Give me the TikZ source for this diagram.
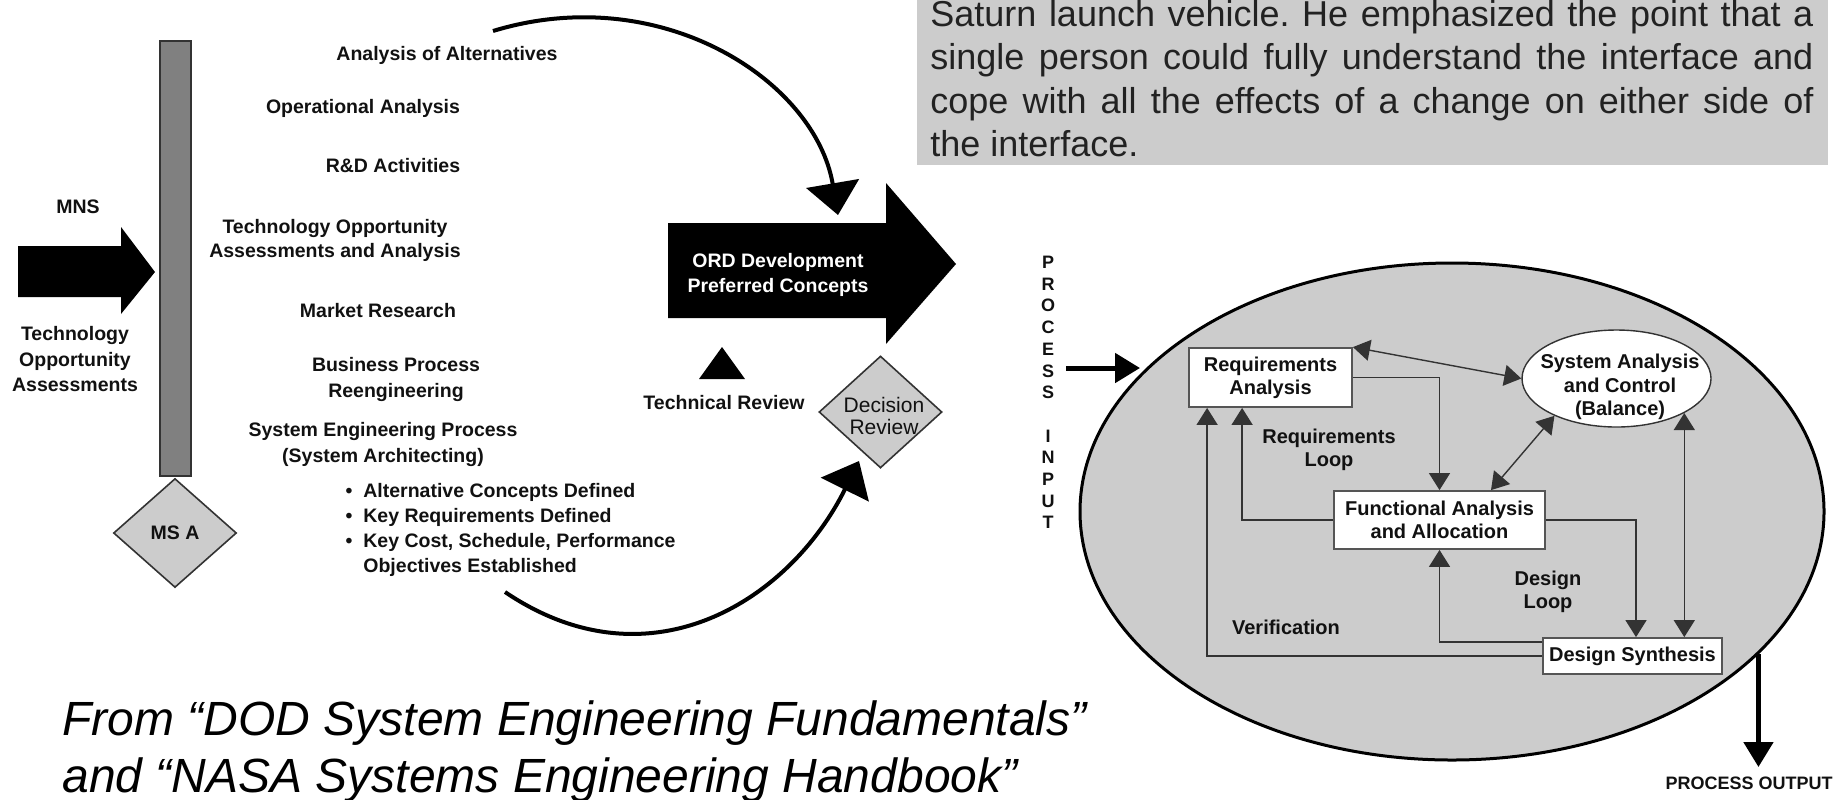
\documentclass[tikz,border=0pt]{standalone}
\usepackage{fontspec}
\setmainfont{Liberation Sans}
\usetikzlibrary{arrows.meta,shapes.geometric,calc}
\frenchspacing
\definecolor{panel}{HTML}{CCCCCC}
\definecolor{barfill}{HTML}{808080}
\definecolor{edge}{HTML}{333333}
\definecolor{boxedge}{HTML}{555555}
\definecolor{ink}{HTML}{111111}
\definecolor{quoteink}{HTML}{222222}
\newcommand\fntL{\bfseries\fontsize{9.75pt}{12pt}\selectfont}
\newcommand\fntR{\bfseries\fontsize{10pt}{11.6pt}\selectfont}
\newcommand\fntDec{\fontsize{10.5pt}{11pt}\selectfont}
\newcommand\fntCap{\itshape\fontsize{24pt}{28.5pt}\selectfont}
\newcommand\fntQuote{\fontsize{18pt}{21.2pt}\selectfont}
\newcommand\fntPIO{\bfseries\fontsize{9pt}{10.85pt}\selectfont}
\begin{document}
\begin{tikzpicture}[x=0.5pt,y=-0.5pt,
  lbl/.style={font=\fntL,text=ink,inner sep=0},
  lblc/.style={lbl,align=center},
  rlbl/.style={font=\fntR,text=ink,inner sep=0,align=center},
  rbox/.style={rlbl,rectangle,draw=boxedge,fill=white,line width=0.9pt},
  milestone/.style={diamond,draw=edge,fill=panel,line width=0.8pt,inner sep=0},
  quote/.style={font=\fntQuote,text=quoteink,inner sep=0,anchor=base west},
  curvearrow/.style={line width=2pt,-{Triangle[length=16pt,width=26.5pt]}},
  flow/.style={draw=edge,line width=0.7pt,-{Triangle[length=8.5pt,width=10.5pt]}},
  flowboth/.style={draw=edge,line width=0.7pt,
    {Triangle[length=8.5pt,width=10.5pt]}-{Triangle[length=8.5pt,width=10.5pt]}},
  io/.style={line width=2.5pt,-{Triangle[length=12.5pt,width=14.5pt]}}]
\useasboundingbox (0,0) rectangle (1845,799);

% ---------- quotation panel ----------
\fill[panel] (917,0) rectangle (1828,165);
\node[quote] (q1) at (930,26) {\makebox[441.5pt][s]{Saturn launch vehicle. He emphasized the point that a}};
\node[quote] (q2) at (930,69.5) {\makebox[441.5pt][s]{single person could fully understand the interface and}};
\node[quote] (q3) at (930,113) {\makebox[441.5pt][s]{cope with all the effects of a change on either side of}};
\node[quote] (q4) at (930,156.5) {the interface.};

% ---------- concept exploration phase ----------
\node[lbl,anchor=base] (mns) at (78,213) {MNS};
\fill[black] (18,246) -- (121,246) -- (121,227) -- (155,272) -- (121,314) -- (121,297) -- (18,297) -- cycle;
\node[lblc,font=\bfseries\fontsize{9.75pt}{12.75pt}\selectfont] (toa) at (75,359.5) {Technology\\Opportunity\\Assessments};

\node[draw=edge,line width=1pt,fill=barfill,minimum width=15.5pt,minimum height=217.5pt,inner sep=0] (bar) at (175.5,258.5) {};
\node[milestone,minimum width=61.5pt,minimum height=54.5pt,font=\fntL,text=ink] (msa) at (175,533) {MS A};

\node[lbl,anchor=base] (aoa) at (447,60) {Analysis of Alternatives};
\node[lbl,anchor=base] (opa) at (363,113) {Operational Analysis};
\node[lbl,anchor=base] (rnd) at (393,172) {R\&D Activities};
\node[lblc] (toaa) at (335,240) {Technology Opportunity\\Assessments and Analysis};
\node[lbl,anchor=base] (mkt) at (378,317) {Market Research};
\node[lblc,font=\bfseries\fontsize{9.75pt}{13pt}\selectfont] (bpr) at (396,379) {Business Process\\Reengineering};
\node[lblc,font=\bfseries\fontsize{9.75pt}{13pt}\selectfont] (sep) at (383,444) {System Engineering Process\\(System Architecting)};
\node[lbl,anchor=base west] (b1) at (363,497) {\llap{\textbullet\hspace{5.5pt}}Alternative Concepts Defined};
\node[lbl,anchor=base west] (b2) at (363,522) {\llap{\textbullet\hspace{5.5pt}}Key Requirements Defined};
\node[lbl,anchor=base west] (b3) at (363,547) {\llap{\textbullet\hspace{5.5pt}}Key Cost, Schedule, Performance};
\node[lbl,anchor=base west] (b4) at (363,572) {Objectives Established};

% preferred concepts block arrow
\fill[black] (668,223) -- (886,223) -- (886,183) -- (956,264) -- (886,344) -- (886,318) -- (668,318) -- cycle;
\node[lblc,text=white,font=\bfseries\fontsize{9.75pt}{12.5pt}\selectfont] (ord) at (778,275) {ORD Development\\Preferred Concepts};

% technical review marker
\fill[black] (722,347) -- (745,379) -- (699,379) -- cycle;
\node[lbl,anchor=base] (trv) at (724,409) {Technical Review};

% decision review milestone
\node[milestone,minimum width=61.5pt,minimum height=56pt] (dr) at (880.5,412) {};
\node[font=\fntDec,text=ink,align=center,inner sep=0] (drtext) at (884,416) {Decision\\Review};

% feedback arcs
\coordinate (topStart) at (493,31);
\coordinate (topEnd) at (838,215);
\draw[curvearrow] (topStart) .. controls (660,-20) and (815,80) .. (topEnd);
\coordinate (botStart) at (505,592);
\coordinate (botEnd) at (859,461);
\draw[curvearrow] (botStart) .. controls (650,690) and (790,600) .. (botEnd);

% source note
\node[font=\fntCap,text=black,inner sep=0,anchor=base west] (cap1) at (62,735) {From “DOD System Engineering Fundamentals”};
\node[font=\fntCap,text=black,inner sep=0,anchor=base west] (cap2) at (62,792) {and “NASA Systems Engineering Handbook”};

% ---------- systems engineering process ----------
\node[ellipse,draw=black,line width=1.5pt,fill=panel,minimum width=372pt,minimum height=248.5pt,inner sep=0] (proc) at (1452,511.5) {};

\node[font=\fntPIO,text=ink,align=center,inner sep=0] (pin) at (1048,392.5) {P\\R\\O\\C\\E\\S\\S\\[10.85pt]I\\N\\P\\U\\T};
\coordinate (inTail) at (1066,368);
\coordinate (inTip) at (1140,368);
\draw[io] (inTail) -- (inTip);

\node[rbox,minimum width=81.5pt,minimum height=29.5pt] (req) at (1270.5,377.5) {Requirements\\Analysis};
\node[rbox,minimum width=105.5pt,minimum height=29pt] (fa) at (1439.5,520) {Functional Analysis\\and Allocation};
\node[rbox,minimum width=89.5pt,minimum height=18pt] (ds) at (1632.5,656) {Design Synthesis};
\node[ellipse,draw=edge,fill=white,line width=0.7pt,minimum width=94.5pt,minimum height=48.5pt,inner sep=0] (sac) at (1616.5,378.5) {};
\node[rlbl] (sactext) at (1620,387) {System Analysis\\and Control\\(Balance)};

\node[rlbl] (rloop) at (1329,450) {Requirements\\Loop};
\node[rlbl] (dloop) at (1548,591.5) {Design\\Loop};
\node[rlbl,anchor=base] (verif) at (1286,634) {Verification};

% loops
\draw[flowboth] (req.north east) -- (sac.west);
\draw[flow] (req.east) -| (fa.north);
\draw[flowboth] ($(fa.north)+(51.5,0)$) -- (sac.211);
\draw[flow] (fa.west) -| ($(req.south west)+(54,0)$);
\draw[flow] (ds.west) -| ($(req.south west)+(19,0)$);
\draw[flow] ($(ds.north west)+(0,5)$) -| (fa.south);
\draw[flow] (fa.east) -| ($(ds.north)+(3.5,0)$);
\draw[flowboth] (sac.-27.4) -- (sac.-27.4 |- ds.north);

% process output
\coordinate (outTip) at (1755,767);
\draw[io] (proc.-25.45) -- (proc.-25.45 |- outTip);
\node[font=\fntPIO,text=ink,inner sep=0,anchor=base] (pout) at (1749,789.5) {PROCESS OUTPUT};
\end{tikzpicture}
\end{document}
